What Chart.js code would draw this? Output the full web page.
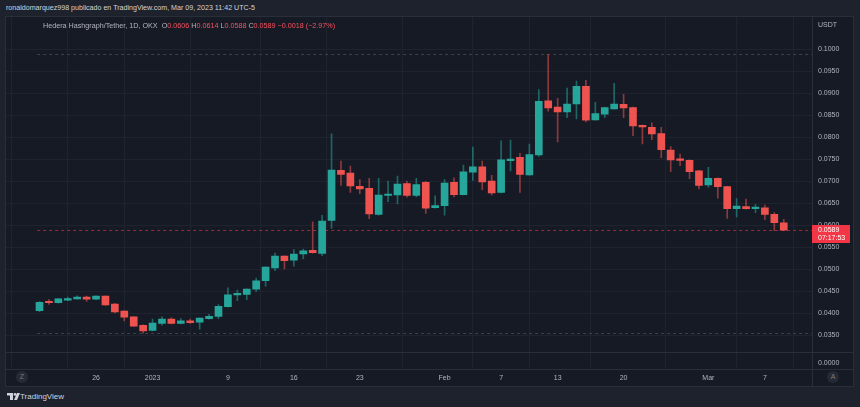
<!DOCTYPE html>
<html>
<head>
<meta charset="utf-8">
<script src="https://cdn.jsdelivr.net/npm/chart.js@4.4.0/dist/chart.umd.min.js"></script>
<style>
  body { margin: 0; width: 860px; height: 407px; background: #1e222d; overflow: hidden; position: relative;
         font-family: "Liberation Sans", Arial, sans-serif; }
  .abs { position: absolute; }
  #author { left: 6px; top: 4px; font-size: 7.1px; color: #d1d4dc; white-space: nowrap; }
  #panel { left: 6px; top: 17px; width: 847px; height: 369px; background: #161a25; outline: 1px solid #2a2e39; }
  /* canvas starts a bit above the panel: the y axis keeps ~10px of label padding at the top */
  #chart { left: 6px; top: 7px; }
  .hline { height: 1px; background: #2a2e39; left: 6px; width: 847px; }
  .vline { width: 1px; background: #2a2e39; }
  #legend { left: 43px; top: 21px; font-size: 7.2px; color: #b2b5be; white-space: nowrap; }
  #legend .v { color: #f7525f; }
  #usdt { left: 818px; top: 21px; font-size: 7px; color: #b2b5be; }
  #zero { left: 818px; top: 359px; font-size: 7px; color: #b2b5be; }
  #pricebox { left: 812px; top: 225px; width: 38px; height: 18px; background: #f23645; color: #fff;
              font-size: 7px; line-height: 8px; padding-left: 6px; box-sizing: border-box; padding-top: 1px; }
  .circ { width: 12px; height: 12px; border-radius: 6px; background: #262a35; color: #787b86;
          font-size: 7px; line-height: 12px; text-align: center; top: 371px; }
  #footer { left: 7px; top: 392px; font-size: 8px; color: #d1d4dc; white-space: nowrap; }
</style>
</head>
<body>
<div id="author" class="abs">ronaldomarquez998 publicado en TradingView.com, Mar 09, 2023 11:42 UTC-5</div>
<div id="panel" class="abs"></div>
<canvas id="chart" class="abs" width="847" height="379"></canvas>
<div class="abs hline" style="top:352px"></div>
<div class="abs hline" style="top:369px"></div>
<div class="abs vline" style="left:812px;top:17px;height:369px"></div>
<div id="legend" class="abs">Hedera Hashgraph/Tether, 1D, OKX&nbsp; O<span class="v">0.0606</span> H<span class="v">0.0614</span> L<span class="v">0.0588</span> C<span class="v">0.0589</span> <span class="v">−0.0018 (−2.97%)</span></div>
<div id="usdt" class="abs">USDT</div>
<div id="zero" class="abs">0.0000</div>
<div id="pricebox" class="abs">0.0589<br>07:17:53</div>
<div class="abs circ" style="left:16px">Z</div>
<div class="abs circ" style="left:827px">A</div>
<div id="footer" class="abs">
  <svg width="13" height="7" viewBox="0 0 13 7" style="vertical-align:-1px">
    <path d="M0 0H6V7H3V2.6H0Z" fill="#d1d4dc"/>
    <circle cx="8" cy="1.4" r="1.4" fill="#d1d4dc"/>
    <path d="M10 0H13L10 7H7Z" fill="#d1d4dc"/>
  </svg>TradingView
</div>

<script>
// daily candles HBAR/USDT, 2022-12-20 .. 2023-03-09
const dates = [
    "12-20", "12-21", "12-22", "12-23", "12-24", "12-25", "12-26", "12-27", "12-28", "12-29", "12-30", "12-31",
    "01-01", "01-02", "01-03", "01-04", "01-05", "01-06", "01-07", "01-08", "01-09", "01-10", "01-11", "01-12",
    "01-13", "01-14", "01-15", "01-16", "01-17", "01-18", "01-19", "01-20", "01-21", "01-22", "01-23", "01-24",
    "01-25", "01-26", "01-27", "01-28", "01-29", "01-30", "01-31",
    "02-01", "02-02", "02-03", "02-04", "02-05", "02-06", "02-07", "02-08", "02-09", "02-10", "02-11", "02-12",
    "02-13", "02-14", "02-15", "02-16", "02-17", "02-18", "02-19", "02-20", "02-21", "02-22", "02-23", "02-24",
    "02-25", "02-26", "02-27", "02-28",
    "03-01", "03-02", "03-03", "03-04", "03-05", "03-06", "03-07", "03-08", "03-09"
];

const openP = [
    0.0406, 0.0427, 0.0424, 0.0430, 0.0433, 0.0437, 0.0432, 0.0439, 0.0421, 0.0405,
    0.0392, 0.0373, 0.0361, 0.0377, 0.0387, 0.0377, 0.0383, 0.0380, 0.0388, 0.0393,
    0.0415, 0.0442, 0.0443, 0.0455, 0.0474, 0.0503, 0.0530, 0.0521, 0.0535, 0.0543,
    0.0536, 0.0611, 0.0725, 0.0719, 0.0689, 0.0684, 0.0625, 0.0668, 0.0669, 0.0695,
    0.0668, 0.0698, 0.0640, 0.0645, 0.0698, 0.0670, 0.0721, 0.0733, 0.0701, 0.0675,
    0.0747, 0.0755, 0.0715, 0.0760, 0.0883, 0.0869, 0.0858, 0.0876, 0.0916, 0.0840,
    0.0853, 0.0865, 0.0875, 0.0868, 0.0826, 0.0823, 0.0809, 0.0771, 0.0750, 0.0748,
    0.0724, 0.0692, 0.0707, 0.0688, 0.0638, 0.0643, 0.0638, 0.0640, 0.0625, 0.0606
];
const highP = [
    0.0427, 0.0431, 0.0434, 0.0437, 0.0440, 0.0439, 0.0440, 0.0440, 0.0423, 0.0406,
    0.0392, 0.0374, 0.0387, 0.0392, 0.0390, 0.0388, 0.0387, 0.0390, 0.0398, 0.0420,
    0.0458, 0.0453, 0.0456, 0.0480, 0.0506, 0.0537, 0.0531, 0.0545, 0.0546, 0.0608,
    0.0623, 0.0808, 0.0746, 0.0735, 0.0704, 0.0707, 0.0707, 0.0701, 0.0712, 0.0701,
    0.0707, 0.0700, 0.0667, 0.0704, 0.0708, 0.0737, 0.0778, 0.0746, 0.0714, 0.0792,
    0.0794, 0.0764, 0.0785, 0.0909, 0.0989, 0.0889, 0.0912, 0.0928, 0.0930, 0.0880,
    0.0869, 0.0923, 0.0898, 0.0869, 0.0828, 0.0833, 0.0823, 0.0779, 0.0762, 0.0749,
    0.0725, 0.0732, 0.0708, 0.0689, 0.0661, 0.0660, 0.0648, 0.0646, 0.0629, 0.0614
];
const lowP = [
    0.0404, 0.0420, 0.0423, 0.0429, 0.0432, 0.0427, 0.0431, 0.0418, 0.0401, 0.0383,
    0.0370, 0.0355, 0.0360, 0.0373, 0.0376, 0.0376, 0.0377, 0.0364, 0.0387, 0.0388,
    0.0414, 0.0429, 0.0431, 0.0450, 0.0462, 0.0497, 0.0501, 0.0507, 0.0524, 0.0537,
    0.0531, 0.0593, 0.0691, 0.0675, 0.0672, 0.0615, 0.0623, 0.0654, 0.0649, 0.0664,
    0.0665, 0.0627, 0.0639, 0.0623, 0.0665, 0.0669, 0.0702, 0.0681, 0.0669, 0.0674,
    0.0724, 0.0675, 0.0714, 0.0757, 0.0860, 0.0790, 0.0845, 0.0842, 0.0835, 0.0839,
    0.0845, 0.0864, 0.0845, 0.0804, 0.0785, 0.0795, 0.0754, 0.0722, 0.0736, 0.0706,
    0.0683, 0.0687, 0.0662, 0.0616, 0.0619, 0.0637, 0.0629, 0.0613, 0.0588, 0.0588
];
const closeP = [
    0.0425, 0.0424, 0.0433, 0.0433, 0.0437, 0.0432, 0.0439, 0.0419, 0.0403, 0.0391,
    0.0371, 0.0360, 0.0378, 0.0387, 0.0377, 0.0383, 0.0379, 0.0389, 0.0393, 0.0416,
    0.0442, 0.0444, 0.0455, 0.0474, 0.0505, 0.0530, 0.0520, 0.0535, 0.0542, 0.0538,
    0.0610, 0.0726, 0.0716, 0.0690, 0.0683, 0.0626, 0.0669, 0.0669, 0.0694, 0.0668,
    0.0693, 0.0639, 0.0645, 0.0696, 0.0670, 0.0722, 0.0733, 0.0699, 0.0674, 0.0749,
    0.0751, 0.0716, 0.0761, 0.0882, 0.0867, 0.0858, 0.0876, 0.0916, 0.0839, 0.0854,
    0.0868, 0.0876, 0.0867, 0.0826, 0.0824, 0.0808, 0.0772, 0.0749, 0.0748, 0.0722,
    0.0691, 0.0707, 0.0688, 0.0638, 0.0644, 0.0638, 0.0639, 0.0625, 0.0606, 0.0589
];

const yTicks = [0.035, 0.040, 0.045, 0.050, 0.055, 0.060, 0.065, 0.070, 0.075, 0.080, 0.085, 0.090, 0.095, 0.100];
const xTickIdx = [0, 6, 12, 20, 27, 34, 43, 49, 55, 62, 71, 77];
const xTickText = ["", "26", "2023", "9", "16", "23", "Feb", "7", "13", "20", "Mar", "7"];

const UP = "#26a69a";
const DOWN = "#ef5350";
const font = { family: "'Liberation Sans', Arial, sans-serif", size: 7 };

const isUp = openP.map((o, i) => closeP[i] >= o);
const hiLevel = Math.max(...highP);
const loLevel = Math.min(...lowP);
const lastPrice = closeP[closeP.length - 1];

// dashed high / low / last price lines
const levelLines = {
    id: "levelLines",
    beforeDatasetsDraw(chart) {
        const { ctx, chartArea, scales } = chart;
        const x0 = scales.x.getPixelForValue(-0.25);
        ctx.save();
        ctx.lineWidth = 1;
        ctx.setLineDash([3, 3]);
        [[hiLevel, "#3d414c"], [loLevel, "#3d414c"], [lastPrice, "rgba(242,54,69,0.6)"]].forEach(([v, c]) => {
            const py = Math.round(scales.y.getPixelForValue(v)) + 0.5;
            ctx.strokeStyle = c;
            ctx.beginPath();
            ctx.moveTo(x0, py);
            ctx.lineTo(chartArea.right, py);
            ctx.stroke();
        });
        ctx.restore();
    },
};

new Chart(document.getElementById("chart"), {
    type: "bar",
    data: {
        datasets: [
            {
                label: "wick",
                data: lowP.map((l, i) => ({ x: i, y: [l, highP[i]] })),
                backgroundColor: isUp.map((u) => (u ? "rgba(38,166,154,0.55)" : "rgba(239,83,80,0.55)")),
                barThickness: 1,
                grouped: false,
                order: 2,
            },
            {
                label: "body",
                data: openP.map((o, i) => ({ x: i, y: [o, closeP[i]] })),
                backgroundColor: isUp.map((u) => (u ? UP : DOWN)),
                barThickness: 7,
                minBarLength: 1.5,
                grouped: false,
                order: 1,
            },
        ],
    },
    options: {
        responsive: false,
        animation: false,
        layout: { padding: 0, autoPadding: false },
        plugins: { legend: { display: false }, tooltip: { enabled: false } },
        scales: {
            x: {
                type: "linear",
                min: -3.556,
                max: 82.0,
                offset: false,
                grid: { color: "#1f2330", drawTicks: false },
                border: { display: false },
                afterBuildTicks: (s) => { s.ticks = xTickIdx.map((v) => ({ value: v })); },
                afterFit: (s) => { s.height = 17; },
                ticks: {
                    color: "#b2b5be",
                    font: font,
                    padding: 5,
                    maxRotation: 0,
                    autoSkip: false,
                    callback: (v) => xTickText[xTickIdx.indexOf(v)],
                },
            },
            y: {
                position: "right",
                min: 0.027341,
                max: 0.107341,
                grid: { color: "#1f2330", drawTicks: false },
                border: { display: false },
                afterBuildTicks: (s) => { s.ticks = yTicks.map((v) => ({ value: v })); },
                afterFit: (s) => { s.width = 41; },
                ticks: { color: "#b2b5be", font: font, padding: 6, callback: (v) => v.toFixed(4) },
            },
        },
    },
    plugins: [levelLines],
});
</script>
</body>
</html>
